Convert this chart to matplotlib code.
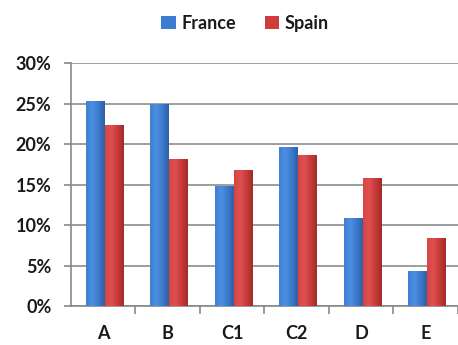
import matplotlib
matplotlib.use("Agg")
import matplotlib.pyplot as plt
import numpy as np
from matplotlib.colors import LinearSegmentedColormap

categories = ["A", "B", "C1", "C2", "D", "E"]
france = [25.3, 25.0, 14.8, 19.6, 10.9, 4.3]
spain = [22.3, 18.1, 16.8, 18.6, 15.8, 8.4]
yticks = [0, 5, 10, 15, 20, 25, 30]

plt.rcParams['font.family'] = ['Lato', 'DejaVu Sans']

fig = plt.figure(figsize=(4.58, 3.45), dpi=100)
ax = fig.add_axes([0.155, 0.113, 0.845, 0.704])

x = np.arange(len(categories))
w = 0.29
off = 0.02
blue = "#3C7DD2"
red = "#D03C3C"
cmap_b = LinearSegmentedColormap.from_list("b", ["#3F7FD0", "#4C8FE0", "#3C7ACB", "#2C5FA8"])
cmap_r = LinearSegmentedColormap.from_list("r", ["#D84444", "#E05050", "#C83A3A", "#A02C2C"])

bars_f = ax.bar(x - w/2 + off, france, width=w, color=blue, linewidth=0, label="France", zorder=3)
bars_s = ax.bar(x + w/2 + off, spain, width=w, color=red, linewidth=0, label="Spain", zorder=3)

grad = np.linspace(0, 1, 64).reshape(1, -1)
for bars, cm in ((bars_f, cmap_b), (bars_s, cmap_r)):
    for p in bars:
        x0, y0 = p.get_x(), p.get_y()
        bw, bh = p.get_width(), p.get_height()
        im = ax.imshow(grad, cmap=cm, aspect="auto", extent=(x0, x0 + bw, y0, y0 + bh),
                       zorder=3.5, interpolation="bicubic")
        im.set_clip_path(p)

ax.set_ylim(0, 30)
ax.set_xlim(-0.5, 5.42)
ax.set_yticks(yticks)
ax.set_yticklabels([f"{v}%" for v in yticks], fontsize=13, fontweight="bold", color="#1a1a1a")
ax.set_xticks(x)
ax.set_xticklabels(categories, fontsize=13, fontweight="bold", color="#1a1a1a")
ax.tick_params(axis="x", length=0, pad=14)
ax.set_xticks(np.arange(len(categories)) + 0.5, minor=True)
ax.tick_params(axis="x", which="minor", length=6, color="#888888", width=1.2)
ax.tick_params(axis="y", length=5, color="#888888", width=1.2, pad=9)
ax.grid(axis="y", color="#8C8C8C", linewidth=1.2, zorder=0)
for s in ["top", "right"]:
    ax.spines[s].set_visible(False)
for s in ["left", "bottom"]:
    ax.spines[s].set_color("#888888")
    ax.spines[s].set_linewidth(1.2)

leg = fig.legend(loc="upper center", bbox_to_anchor=(0.535, 1.005), ncol=2, frameon=False,
                 prop={"size": 13, "weight": "bold", "family": ["Lato", "DejaVu Sans"]},
                 handlelength=0.8, handleheight=0.75, handletextpad=0.3, columnspacing=1.6)
for t in leg.get_texts():
    t.set_color("#1a1a1a")

fig.savefig("out.png", dpi=100)
